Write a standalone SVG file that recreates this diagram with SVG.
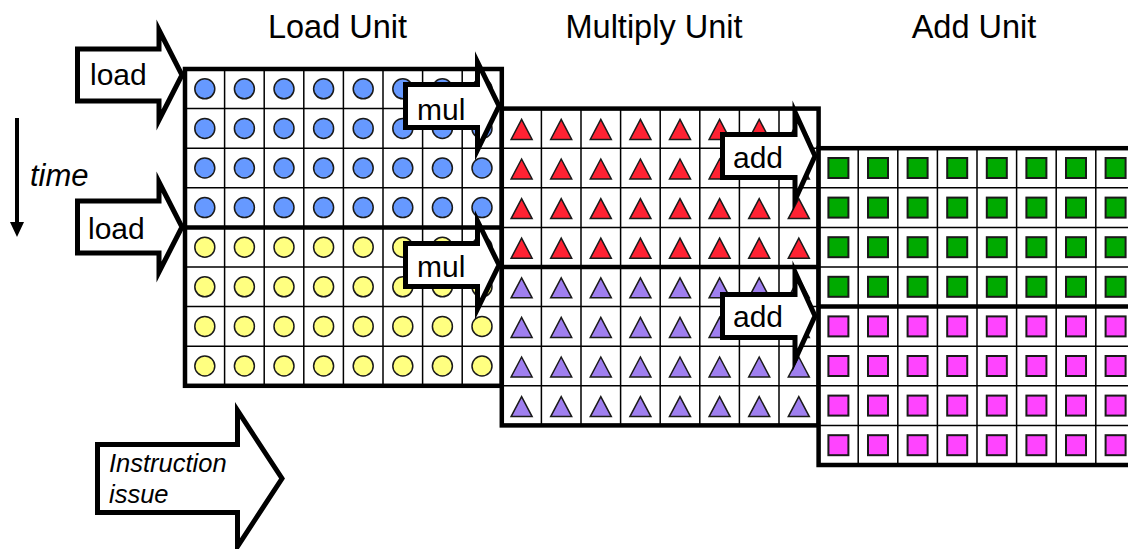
<svg xmlns="http://www.w3.org/2000/svg" xmlns:xlink="http://www.w3.org/1999/xlink" width="1128" height="549" viewBox="0 0 1128 549">
<style>
.title{font-family:"Liberation Sans",Arial,sans-serif;font-size:32.5px;fill:#000}
.lbl{font-family:"Liberation Sans",Arial,sans-serif;font-size:30px;fill:#000}
.ital{font-family:"Liberation Sans",Arial,sans-serif;font-style:italic;fill:#000}
.thin{stroke:#000;stroke-width:1.5;fill:none}
.thick{stroke:#000;stroke-width:4.5;fill:none}
.shp{stroke:#1a1a1a;stroke-width:1.5}
.sq{stroke:#1a1a1a;stroke-width:2}
.arrow{fill:#fff;stroke:#000;stroke-width:5;stroke-linejoin:miter;stroke-miterlimit:10}
</style>
<defs>
<g id="gridBg">
<rect width="316.8" height="316.8" fill="#fff"/>
<path class="thin" d="M39.6 0V316.8M79.2 0V316.8M118.8 0V316.8M158.4 0V316.8M198 0V316.8M237.6 0V316.8M277.2 0V316.8M0 39.6H316.8M0 79.2H316.8M0 118.8H316.8M0 198H316.8M0 237.6H316.8M0 277.2H316.8"/>
</g>
<g id="gridBorder">
<path class="thick" d="M0 158.4H316.8"/>
<rect class="thick" width="316.8" height="316.8"/>
</g>
<g id="circRow" class="shp">
<circle cx="19.8" cy="0" r="10"/><circle cx="59.4" cy="0" r="10"/><circle cx="99" cy="0" r="10"/><circle cx="138.6" cy="0" r="10"/><circle cx="178.2" cy="0" r="10"/><circle cx="217.8" cy="0" r="10"/><circle cx="257.4" cy="0" r="10"/><circle cx="297" cy="0" r="10"/>
</g>
<g id="triRow" class="shp">
<polygon points="19.8,-9 30.3,11 9.3,11"/><polygon points="59.4,-9 69.9,11 48.9,11"/><polygon points="99,-9 109.5,11 88.5,11"/><polygon points="138.6,-9 149.1,11 128.1,11"/><polygon points="178.2,-9 188.7,11 167.7,11"/><polygon points="217.8,-9 228.3,11 207.3,11"/><polygon points="257.4,-9 267.9,11 246.9,11"/><polygon points="297,-9 307.5,11 286.5,11"/>
</g>
<g id="sqRow" class="sq">
<rect x="9.8" y="-10" width="20" height="20"/><rect x="49.4" y="-10" width="20" height="20"/><rect x="89" y="-10" width="20" height="20"/><rect x="128.6" y="-10" width="20" height="20"/><rect x="168.2" y="-10" width="20" height="20"/><rect x="207.8" y="-10" width="20" height="20"/><rect x="247.4" y="-10" width="20" height="20"/><rect x="287" y="-10" width="20" height="20"/>
</g>
</defs>

<g id="titles">
<text class="title" x="337.5" y="38" text-anchor="middle">Load Unit</text>
<text class="title" x="654" y="38" text-anchor="middle">Multiply Unit</text>
<text class="title" x="974" y="38" text-anchor="middle">Add Unit</text>
</g>

<g id="load-unit">
<use xlink:href="#gridBg" x="185" y="69"/>
<g fill="#6699ff">
<use xlink:href="#circRow" x="185" y="88.8"/><use xlink:href="#circRow" x="185" y="128.4"/><use xlink:href="#circRow" x="185" y="168"/><use xlink:href="#circRow" x="185" y="207.6"/>
</g>
<g fill="#ffff80">
<use xlink:href="#circRow" x="185" y="247.2"/><use xlink:href="#circRow" x="185" y="286.8"/><use xlink:href="#circRow" x="185" y="326.4"/><use xlink:href="#circRow" x="185" y="366"/>
</g>
<use xlink:href="#gridBorder" x="185" y="69"/>
</g>

<g id="multiply-unit">
<use xlink:href="#gridBg" x="501.8" y="108.6"/>
<g fill="#ff2233">
<use xlink:href="#triRow" x="501.8" y="128.4"/><use xlink:href="#triRow" x="501.8" y="168"/><use xlink:href="#triRow" x="501.8" y="207.6"/><use xlink:href="#triRow" x="501.8" y="247.2"/>
</g>
<g fill="#9f7fef">
<use xlink:href="#triRow" x="501.8" y="286.8"/><use xlink:href="#triRow" x="501.8" y="326.4"/><use xlink:href="#triRow" x="501.8" y="366"/><use xlink:href="#triRow" x="501.8" y="405.6"/>
</g>
<use xlink:href="#gridBorder" x="501.8" y="108.6"/>
</g>

<g id="add-unit">
<use xlink:href="#gridBg" x="818.6" y="148.2"/>
<g fill="#00aa00">
<use xlink:href="#sqRow" x="818.6" y="168"/><use xlink:href="#sqRow" x="818.6" y="207.6"/><use xlink:href="#sqRow" x="818.6" y="247.2"/><use xlink:href="#sqRow" x="818.6" y="286.8"/>
</g>
<g fill="#ff44ff">
<use xlink:href="#sqRow" x="818.6" y="326.4"/><use xlink:href="#sqRow" x="818.6" y="366"/><use xlink:href="#sqRow" x="818.6" y="405.6"/><use xlink:href="#sqRow" x="818.6" y="445.2"/>
</g>
<use xlink:href="#gridBorder" x="818.6" y="148.2"/>
</g>

<g id="time-axis">
<line x1="17" y1="118" x2="17" y2="224" stroke="#000" stroke-width="4"/>
<polygon points="10,222 24,222 17,237" fill="#000"/>
<text class="ital" x="30" y="186" font-size="31">time</text>
</g>

<g id="load-arrow-1">
<polygon class="arrow" points="77.5,49 159,49 159,30 182,75 159,120 159,101 77.5,101"/>
<text class="lbl" x="90" y="85">load</text>
</g>
<g id="load-arrow-2">
<polygon class="arrow" points="77.5,201 159,201 159,182 182,227 159,272 159,253 77.5,253"/>
<text class="lbl" x="88" y="239">load</text>
</g>
<g id="mul-arrow-1">
<polygon class="arrow" points="405.5,84.5 477.5,84.5 477.5,62 499,106 477.5,150 477.5,127.5 405.5,127.5"/>
<text class="lbl" x="417" y="120">mul</text>
</g>
<g id="mul-arrow-2">
<polygon class="arrow" points="405.5,243.5 477.5,243.5 477.5,221 499,265 477.5,309 477.5,286.5 405.5,286.5"/>
<text class="lbl" x="417" y="277">mul</text>
</g>
<g id="add-arrow-1">
<polygon class="arrow" points="722.5,134.5 795,134.5 795,112 815,156 795,200 795,177.5 722.5,177.5"/>
<text class="lbl" x="733" y="168">add</text>
</g>
<g id="add-arrow-2">
<polygon class="arrow" points="722.5,294.5 795,294.5 795,272 815,316 795,360 795,337.5 722.5,337.5"/>
<text class="lbl" x="733" y="327">add</text>
</g>
<g id="issue-arrow">
<polygon class="arrow" points="97.5,444.5 237.5,444.5 237.5,410.5 282,478.5 237.5,546.5 237.5,512.5 97.5,512.5"/>
<text class="ital" x="109" y="472" font-size="25.5">Instruction</text>
<text class="ital" x="109" y="503" font-size="25.5">issue</text>
</g>
</svg>
